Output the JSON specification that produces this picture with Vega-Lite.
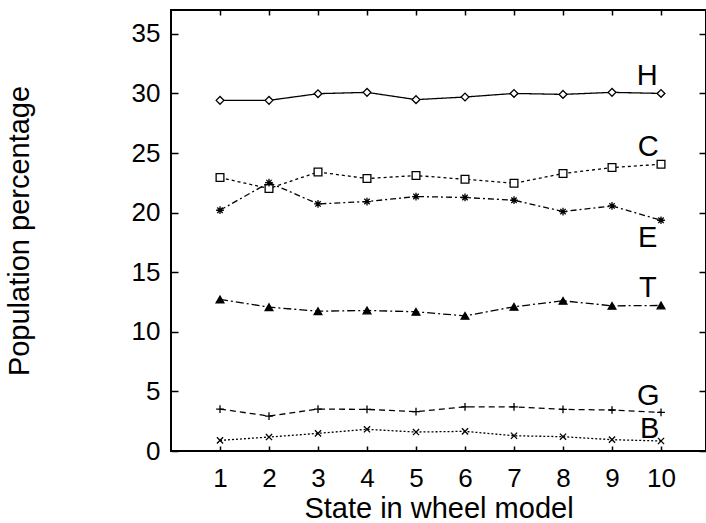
{
  "$schema": "https://vega.github.io/schema/vega-lite/v6.json",
  "width": 535,
  "height": 441,
  "autosize": {"type": "none"},
  "padding": {"left": 171, "top": 10, "right": 0, "bottom": 72},
  "background": "white",
  "datasets": {
    "pop": [
      {"state": 1, "series": "H", "value": 29.42}, {"state": 2, "series": "H", "value": 29.42}, {"state": 3, "series": "H", "value": 29.98}, {"state": 4, "series": "H", "value": 30.09}, {"state": 5, "series": "H", "value": 29.48}, {"state": 6, "series": "H", "value": 29.70}, {"state": 7, "series": "H", "value": 30.00}, {"state": 8, "series": "H", "value": 29.92}, {"state": 9, "series": "H", "value": 30.09}, {"state": 10, "series": "H", "value": 30.00},
      {"state": 1, "series": "C", "value": 22.94}, {"state": 2, "series": "C", "value": 22.02}, {"state": 3, "series": "C", "value": 23.41}, {"state": 4, "series": "C", "value": 22.86}, {"state": 5, "series": "C", "value": 23.11}, {"state": 6, "series": "C", "value": 22.80}, {"state": 7, "series": "C", "value": 22.46}, {"state": 8, "series": "C", "value": 23.28}, {"state": 9, "series": "C", "value": 23.78}, {"state": 10, "series": "C", "value": 24.06},
      {"state": 1, "series": "E", "value": 20.20}, {"state": 2, "series": "E", "value": 22.52}, {"state": 3, "series": "E", "value": 20.73}, {"state": 4, "series": "E", "value": 20.93}, {"state": 5, "series": "E", "value": 21.35}, {"state": 6, "series": "E", "value": 21.27}, {"state": 7, "series": "E", "value": 21.04}, {"state": 8, "series": "E", "value": 20.09}, {"state": 9, "series": "E", "value": 20.56}, {"state": 10, "series": "E", "value": 19.36},
      {"state": 1, "series": "T", "value": 12.72}, {"state": 2, "series": "T", "value": 12.07}, {"state": 3, "series": "T", "value": 11.73}, {"state": 4, "series": "T", "value": 11.79}, {"state": 5, "series": "T", "value": 11.68}, {"state": 6, "series": "T", "value": 11.34}, {"state": 7, "series": "T", "value": 12.10}, {"state": 8, "series": "T", "value": 12.60}, {"state": 9, "series": "T", "value": 12.18}, {"state": 10, "series": "T", "value": 12.21},
      {"state": 1, "series": "G", "value": 3.52}, {"state": 2, "series": "G", "value": 2.93}, {"state": 3, "series": "G", "value": 3.52}, {"state": 4, "series": "G", "value": 3.49}, {"state": 5, "series": "G", "value": 3.30}, {"state": 6, "series": "G", "value": 3.71}, {"state": 7, "series": "G", "value": 3.71}, {"state": 8, "series": "G", "value": 3.49}, {"state": 9, "series": "G", "value": 3.44}, {"state": 10, "series": "G", "value": 3.24},
      {"state": 1, "series": "B", "value": 0.89}, {"state": 2, "series": "B", "value": 1.17}, {"state": 3, "series": "B", "value": 1.48}, {"state": 4, "series": "B", "value": 1.82}, {"state": 5, "series": "B", "value": 1.59}, {"state": 6, "series": "B", "value": 1.65}, {"state": 7, "series": "B", "value": 1.28}, {"state": 8, "series": "B", "value": 1.20}, {"state": 9, "series": "B", "value": 0.95}, {"state": 10, "series": "B", "value": 0.84}
    ],
    "labels": [
      {"label": "H", "lx": 9.72, "ly": 30.68},
      {"label": "C", "lx": 9.74, "ly": 24.73},
      {"label": "E", "lx": 9.73, "ly": 17.14},
      {"label": "T", "lx": 9.73, "ly": 12.88},
      {"label": "G", "lx": 9.74, "ly": 3.86},
      {"label": "B", "lx": 9.77, "ly": 1.13}
    ]
  },
  "layer": [
    {
      "data": {"name": "pop"},
      "mark": {"type": "line", "color": "black", "strokeWidth": 1.3},
      "encoding": {
        "x": {
          "field": "state", "type": "quantitative",
          "scale": {"domain": [0, 10.918], "nice": false, "zero": false},
          "axis": {
            "orient": "bottom", "values": [1, 2, 3, 4, 5, 6, 7, 8, 9, 10], "format": "d",
            "title": "State in wheel model", "domain": false, "grid": false,
            "tickSize": -5, "tickColor": "black", "tickWidth": 1.5,
            "labelFont": "Liberation Sans", "labelFontSize": 26, "labelColor": "black",
            "labelBaseline": "alphabetic", "labelPadding": 40,
            "titleFont": "Liberation Sans", "titleFontSize": 29, "titleFontWeight": "normal", "titleColor": "black",
            "titleBaseline": "alphabetic", "titleY": 66
          }
        },
        "y": {
          "field": "value", "type": "quantitative",
          "scale": {"domain": [0, 37], "nice": false, "zero": false},
          "axis": {
            "orient": "left", "values": [0, 5, 10, 15, 20, 25, 30, 35], "format": "d",
            "title": "Population percentage", "domain": false, "grid": false,
            "tickSize": -7, "tickColor": "black", "tickWidth": 1.5,
            "labelFont": "Liberation Sans", "labelFontSize": 26, "labelColor": "black",
            "labelPadding": 18,
            "titleFont": "Liberation Sans", "titleFontSize": 29, "titleFontWeight": "normal", "titleColor": "black",
            "titleBaseline": "alphabetic", "titleX": -143, "titleY": 220.5
          }
        },
        "detail": {"field": "series", "type": "nominal"},
        "strokeDash": {
          "field": "series", "type": "nominal", "legend": null,
          "scale": {"domain": ["H", "C", "E", "T", "G", "B"], "range": [[1, 0], [3, 3], [6, 3, 2, 3], [8, 3, 2, 3], [6, 4], [2, 2]]}
        }
      }
    },
    {
      "data": {"name": "pop"},
      "mark": {"type": "point", "filled": true, "stroke": "black", "strokeWidth": 1.3, "opacity": 1, "size": 60},
      "encoding": {
        "x": {
          "field": "state", "type": "quantitative",
          "scale": {"domain": [0, 10.918], "nice": false, "zero": false},
          "axis": {"orient": "top", "values": [1, 2, 3, 4, 5, 6, 7, 8, 9, 10], "labels": false, "title": null, "domain": false, "grid": false, "tickSize": -5, "tickColor": "black", "tickWidth": 1.5}
        },
        "y": {
          "field": "value", "type": "quantitative",
          "scale": {"domain": [0, 37], "nice": false, "zero": false},
          "axis": {"orient": "right", "values": [0, 5, 10, 15, 20, 25, 30, 35], "labels": false, "title": null, "domain": false, "grid": false, "tickSize": -7, "tickColor": "black", "tickWidth": 1.5}
        },
        "shape": {
          "field": "series", "type": "nominal", "legend": null,
          "scale": {"domain": ["H", "C", "E", "T", "G", "B"], "range": ["diamond", "square", "M-1,0L1,0M0,-1L0,1M-0.7,-0.7L0.7,0.7M-0.7,0.7L0.7,-0.7", "triangle-up", "M-1,0L1,0M0,-1L0,1", "M-0.8,-0.8L0.8,0.8M-0.8,0.8L0.8,-0.8"]}
        },
        "fill": {
          "field": "series", "type": "nominal", "legend": null,
          "scale": {"domain": ["H", "C", "E", "T", "G", "B"], "range": ["white", "white", "black", "black", "black", "black"]}
        }
      }
    },
    {
      "data": {"name": "labels"},
      "mark": {"type": "text", "font": "Liberation Sans", "fontSize": 29, "color": "black", "align": "center", "baseline": "alphabetic"},
      "encoding": {
        "x": {"field": "lx", "type": "quantitative", "axis": null},
        "y": {"field": "ly", "type": "quantitative", "axis": null},
        "text": {"field": "label", "type": "nominal"}
      }
    }
  ],
  "resolve": {"axis": {"x": "independent", "y": "independent"}},
  "config": {
    "view": {"stroke": "black", "strokeWidth": 2}
  }
}
